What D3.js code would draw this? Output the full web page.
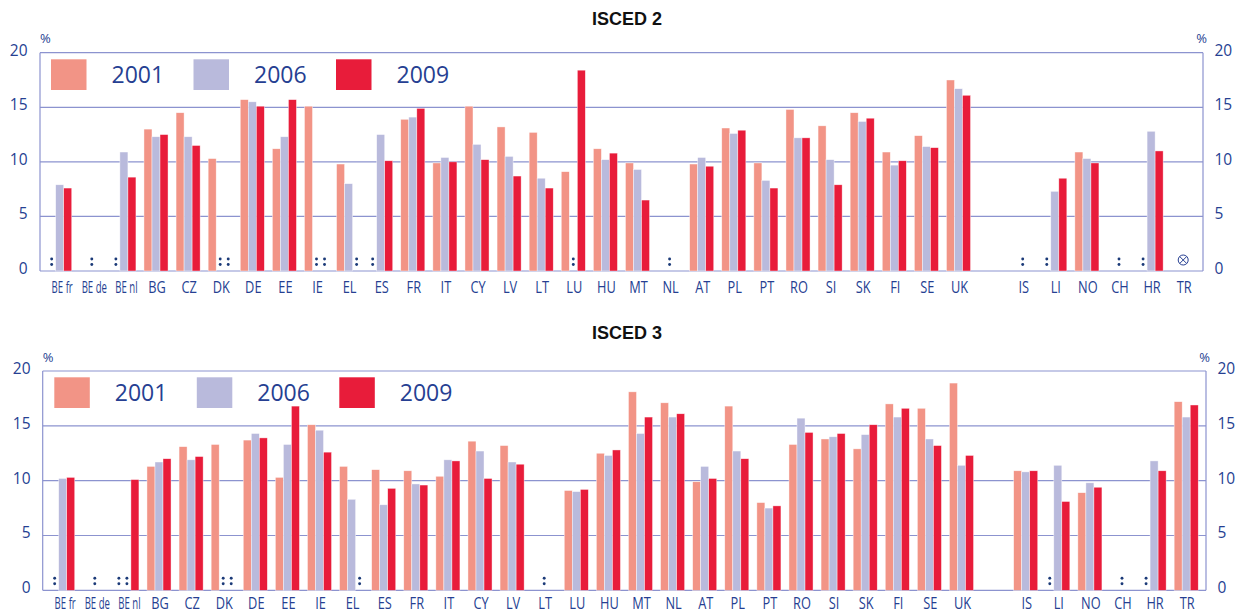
<!DOCTYPE html>
<html>
<head>
<meta charset="utf-8">
<script src="https://cdn.jsdelivr.net/npm/d3@7"></script>
<style>
  html, body { margin: 0; padding: 0; background: #fff; }
  svg { display: block; }
</style>
</head>
<body>
<svg id="chart" width="1237" height="613"></svg>
<script>
// ---------- DATA ----------
const countries = ["BE fr","BE de","BE nl","BG","CZ","DK","DE","EE","IE","EL","ES","FR","IT","CY","LV","LT","LU","HU","MT","NL","AT","PL","PT","RO","SI","SK","FI","SE","UK","","IS","LI","NO","CH","HR","TR"];
const years = ["2001","2006","2009"];
const yTicks = [0, 5, 10, 15, 20];

const isced2_2001 = [null,null,null,13.0,14.5,10.3,15.7,11.2,15.1,9.8,null,13.9,9.9,15.1,13.2,12.7,9.1,11.2,9.9,null,9.8,13.1,9.9,14.8,13.3,14.5,10.9,12.4,17.5,null,null,null,10.9,null,null,null];
const isced2_2006 = [7.9,null,10.9,12.3,12.3,null,15.5,12.3,null,8.0,12.5,14.1,10.4,11.6,10.5,8.5,null,10.2,9.3,null,10.4,12.6,8.3,12.2,10.2,13.7,9.7,11.4,16.7,null,null,7.3,10.3,null,12.8,null];
const isced2_2009 = [7.6,null,8.6,12.5,11.5,null,15.1,15.7,null,null,10.1,14.9,10.0,10.2,8.7,7.6,18.4,10.8,6.5,null,9.6,12.9,7.6,12.2,7.9,14.0,10.1,11.3,16.1,null,null,8.5,9.9,null,11.0,null];
const isced2_notApplicable = ["TR"];

const isced3_2001 = [null,null,null,11.3,13.1,13.3,13.7,10.3,15.1,11.3,11.0,10.9,10.4,13.6,13.2,null,9.1,12.5,18.1,17.1,9.9,16.8,8.0,13.3,13.8,12.9,17.0,16.6,18.9,null,10.9,null,8.9,null,null,17.2];
const isced3_2006 = [10.2,null,null,11.7,11.9,null,14.3,13.3,14.6,8.3,7.8,9.7,11.9,12.7,11.7,null,9.0,12.3,14.3,15.8,11.3,12.7,7.5,15.7,14.0,14.2,15.8,13.8,11.4,null,10.8,11.4,9.8,null,11.8,15.8];
const isced3_2009 = [10.3,null,10.1,12.0,12.2,null,13.9,16.8,12.6,null,9.3,9.6,11.8,10.2,11.5,null,9.2,12.8,15.8,16.1,10.2,12.0,7.7,14.4,14.3,15.1,16.6,13.2,12.3,null,10.9,8.1,9.4,null,10.9,16.9];
const isced3_notApplicable = [];

// ---------- STYLE ----------
const colors = { "2001": "#f29486", "2006": "#b9badc", "2009": "#e81c3a" };
const textBlue = "#263f92";
const gridColor = "#8c93cf";
const dotColor = "#1b3a78";
const font = "'Open Sans', 'Noto Sans', sans-serif";

const svg = d3.select("#chart");

function drawPanel(cfg) {
  const g = svg.append("g");
  const y = d3.scaleLinear().domain([0, 20]).range([cfg.y0, cfg.y20]);
  const x0 = d3.scaleBand().domain(countries).range(cfg.xRange).paddingInner(0.25).paddingOuter(0.125);
  const x1 = d3.scaleBand().domain(years).range([0, x0.bandwidth()]);

  // title
  g.append("text").attr("x", 627).attr("y", cfg.titleY)
    .attr("text-anchor", "middle").attr("font-family", "'Liberation Sans', Arial, sans-serif")
    .attr("font-weight", "bold").attr("font-size", 18).attr("fill", "#111")
    .text(cfg.title);

  // grid lines
  g.selectAll(".grid").data(yTicks).enter().append("line")
    .attr("x1", cfg.frameL).attr("x2", cfg.frameR)
    .attr("y1", d => y(d)).attr("y2", d => y(d))
    .attr("stroke", gridColor).attr("stroke-width", 1.2);
  // vertical frame sides
  [cfg.frameL, cfg.frameR].forEach(xx => {
    g.append("line").attr("x1", xx).attr("x2", xx).attr("y1", y(20)).attr("y2", y(0))
      .attr("stroke", gridColor).attr("stroke-width", 1.2);
  });

  // axes labels (left / right) via d3 axes
  const axL = d3.axisLeft(y).tickValues(yTicks).tickSize(0).tickPadding(0);
  const gl = g.append("g").attr("transform", `translate(${cfg.leftLabelX},-2.5)`).call(axL);
  const axR = d3.axisRight(y).tickValues(yTicks).tickSize(0).tickPadding(0);
  const gr = g.append("g").attr("transform", `translate(${cfg.rightLabelX},-2.5)`).call(axR);
  [gl, gr].forEach(a => {
    a.select(".domain").remove();
    a.selectAll("text").attr("font-family", font).attr("font-size", 15.5).attr("fill", textBlue);
  });

  // % labels
  g.append("text").attr("x", cfg.frameL).attr("y", cfg.pctY).attr("font-family", font)
    .attr("font-size", 13).attr("fill", textBlue).text("%");
  g.append("text").attr("x", cfg.frameR + 4).attr("y", cfg.pctY).attr("text-anchor", "end")
    .attr("font-family", font).attr("font-size", 13).attr("fill", textBlue).text("%");

  // bars
  const series = years.map((yr, k) => ({ year: yr, values: cfg.values[k] }));
  series.forEach(s => {
    const items = countries.map((c, i) => ({ c, v: s.values[i] })).filter(d => d.v != null);
    g.selectAll(null).data(items).enter().append("rect")
      .attr("x", d => x0(d.c) + x1(s.year))
      .attr("width", x1.bandwidth())
      .attr("y", d => y(d.v))
      .attr("height", d => y(0) - y(d.v))
      .attr("fill", colors[s.year])
      .attr("stroke", "#fff").attr("stroke-width", 0.6).attr("stroke-opacity", 0.7);
  });

  // missing-data markers
  const marks = [];
  countries.forEach((c, i) => {
    if (c === "") return;
    const vals = cfg.values.map(v => v[i]);
    if (vals.every(v => v == null)) {
      marks.push({ x: x0(c) + x0.bandwidth() / 2, type: cfg.notApplicable.includes(c) ? "na" : "colon" });
    } else {
      vals.forEach((v, k) => {
        if (v == null) marks.push({ x: x0(c) + x1(years[k]) + x1.bandwidth() / 2, type: "colon" });
      });
    }
  });
  marks.forEach(m => {
    if (m.type === "colon") {
      [12, 6.5].forEach(off => {
        g.append("circle").attr("cx", m.x).attr("cy", y(0) - off).attr("r", 1.45).attr("fill", dotColor);
      });
    } else {
      const cy = y(0) - 11, r = 5;
      g.append("circle").attr("cx", m.x).attr("cy", cy).attr("r", r)
        .attr("fill", "none").attr("stroke", textBlue).attr("stroke-width", 1);
      const d = r * 0.7;
      g.append("line").attr("x1", m.x - d).attr("y1", cy - d).attr("x2", m.x + d).attr("y2", cy + d)
        .attr("stroke", textBlue).attr("stroke-width", 1);
      g.append("line").attr("x1", m.x - d).attr("y1", cy + d).attr("x2", m.x + d).attr("y2", cy - d)
        .attr("stroke", textBlue).attr("stroke-width", 1);
    }
  });

  // category labels
  countries.forEach(c => {
    if (c === "") return;
    const multi = c.indexOf(" ") >= 0;
    const cx = x0(c) + x0.bandwidth() / 2 + (multi ? 2.5 : 1);
    g.append("text").attr("transform", `translate(${cx},${cfg.labelY}) scale(${multi ? 0.6 : 0.8},1)`)
      .attr("text-anchor", "middle").attr("font-family", font).attr("font-size", 16)
      .attr("fill", textBlue).text(c);
  });

  // legend
  years.forEach((yr, k) => {
    const lx = cfg.legendX + k * 142.5;
    g.append("rect").attr("x", lx).attr("y", cfg.legendY).attr("width", 35.5).attr("height", 30.7)
      .attr("fill", colors[yr]);
    g.append("text").attr("x", lx + 60.5).attr("y", cfg.legendY + 23.3)
      .attr("font-family", font).attr("font-size", 23).attr("fill", textBlue).text(yr);
  });
}

drawPanel({
  title: "ISCED 2", titleY: 25,
  y0: 271, y20: 52.7, xRange: [43.65, 1199.25],
  frameL: 40, frameR: 1203,
  leftLabelX: 27.5, rightLabelX: 1214.5, pctY: 43,
  labelY: 293, legendX: 51, legendY: 59.3,
  values: [isced2_2001, isced2_2006, isced2_2009],
  notApplicable: isced2_notApplicable
});
drawPanel({
  title: "ISCED 3", titleY: 339,
  y0: 590.3, y20: 371, xRange: [46.65, 1202.25],
  frameL: 42.7, frameR: 1206,
  leftLabelX: 30.5, rightLabelX: 1217.5, pctY: 361.5,
  labelY: 608.5, legendX: 54.3, legendY: 377.3,
  values: [isced3_2001, isced3_2006, isced3_2009],
  notApplicable: isced3_notApplicable
});
</script>
</body>
</html>
